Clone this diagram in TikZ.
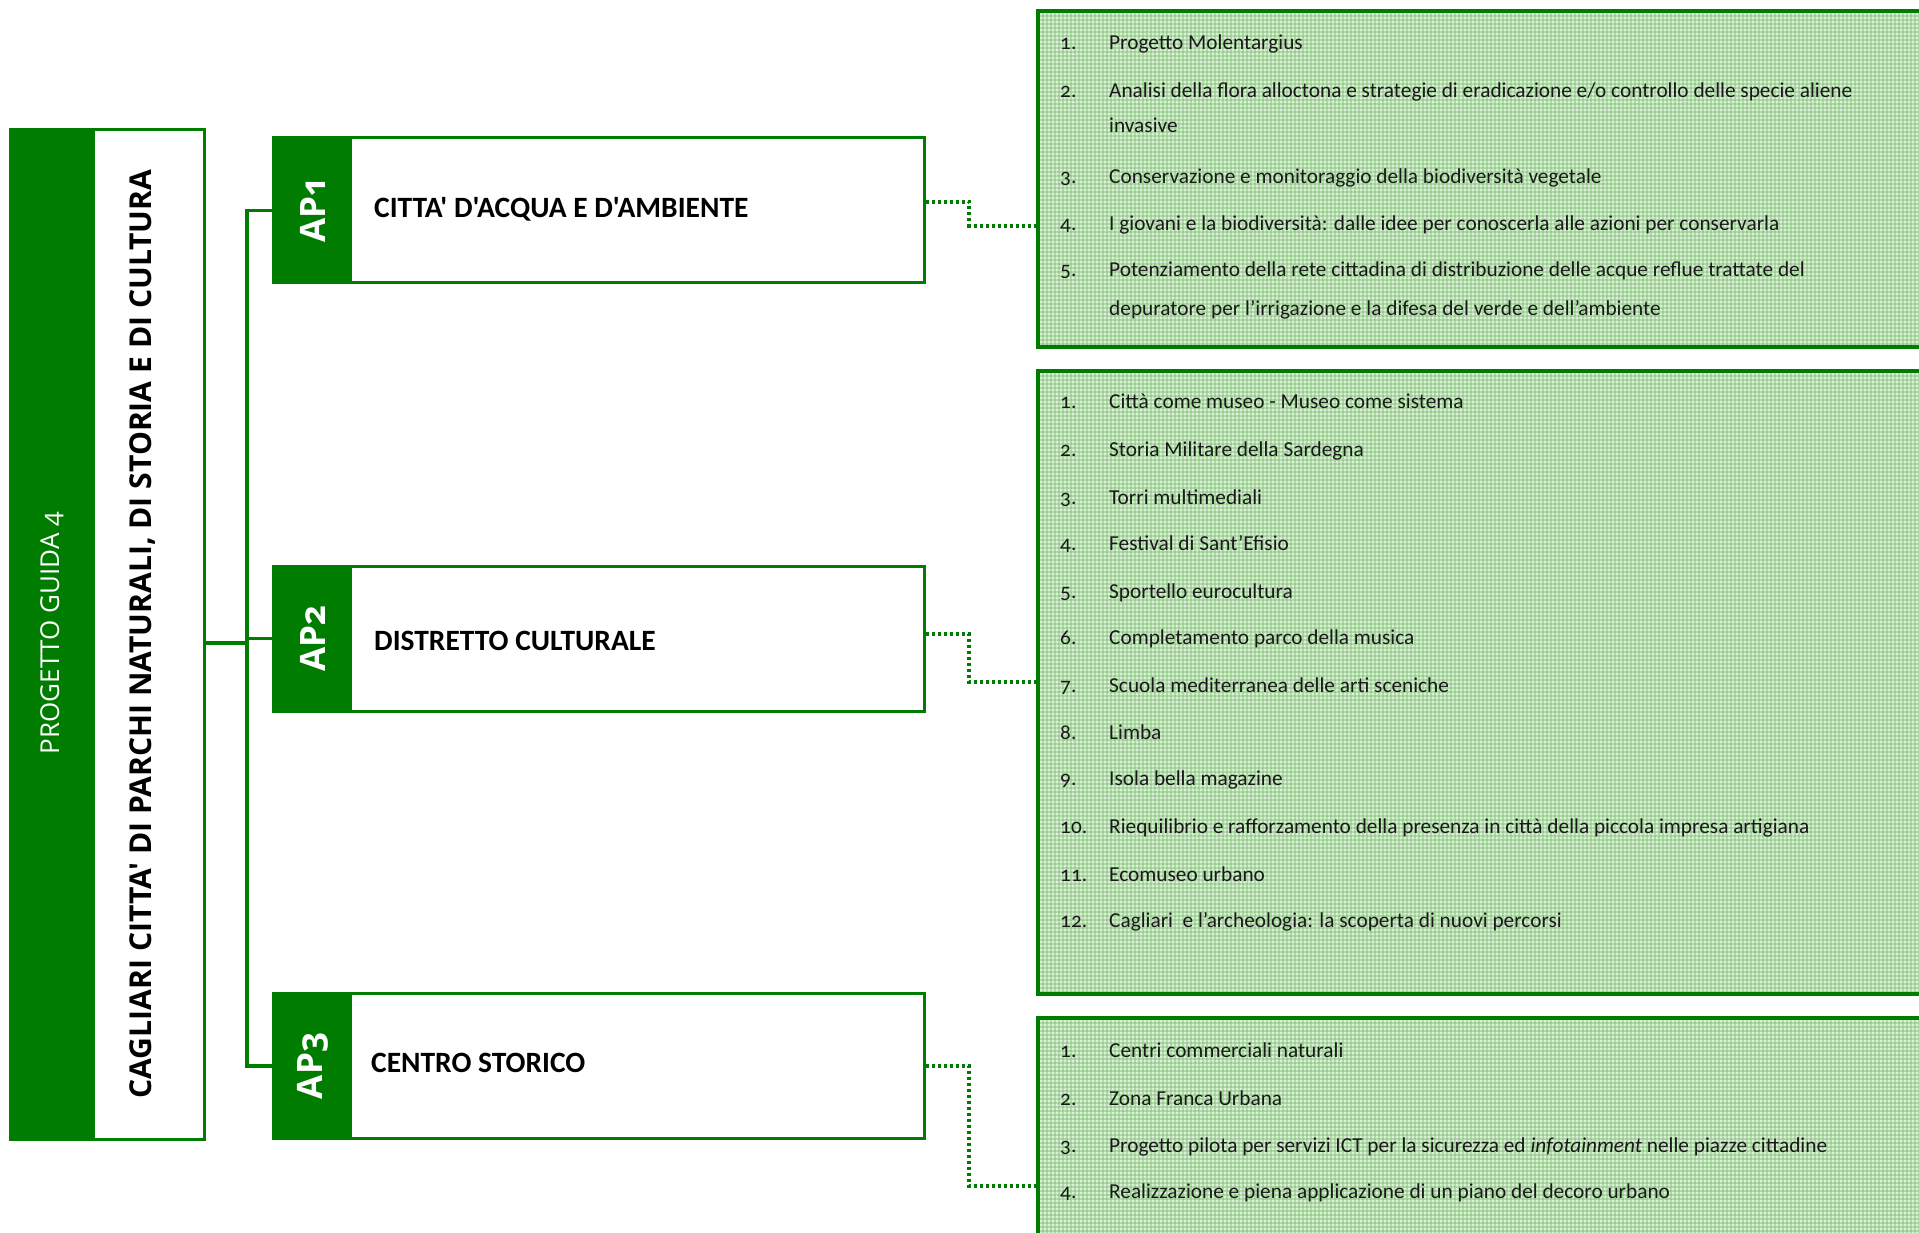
\documentclass[tikz,border=0pt]{standalone}
\usepackage{fontspec}
\setmainfont{Carlito}[Numbers=OldStyle]
\newfontfamily\headfont{Carlito}[Ligatures=TeXOff,Numbers=OldStyle]
\newfontfamily\widefont{Open Sans}[Ligatures=TeXOff,Numbers=OldStyle]
\usetikzlibrary{calc}

\definecolor{pgreen}{RGB}{0,125,0}
\definecolor{ginbase}{RGB}{220,239,216}
\definecolor{ginline}{RGB}{110,186,100}
\definecolor{itemtext}{RGB}{25,25,25}

% checked green fill: #1,#2 top-left, #3,#4 bottom-right, #5/#6 stripe counts
\newcommand\ginghamfill[6]{%
  \begin{scope}
    \clip (#1,#2) rectangle (#3,#4);
    \fill[ginbase] (#1,#2) rectangle (#3,#4);
    \foreach \k in {0,...,#5}
      \draw[ginstripe] (#1+1+4*\k,#2) -- (#1+1+4*\k,#4);
    \foreach \k in {0,...,#6}
      \draw[ginstripe] (#1,#2+1+4*\k) -- (#3,#2+1+4*\k);
  \end{scope}}

% one numbered row of a list box
\newcommand\listrow[4]{%
  \node[itemnum] (#1n) at (1060,#2+6) {#3};
  \node[itemtxt] (#1t) at (1109,#2+6) {#4};}

\tikzset{
  ginstripe/.style={draw=ginline, line width=2pt, opacity=0.38},
  frame/.style={rectangle, draw=pgreen, line width=3pt, fill=white, inner sep=0pt},
  tagstrip/.style={rectangle, fill=pgreen, inner sep=0pt, text=white},
  listframe/.style={rectangle, draw=pgreen, line width=4pt, inner sep=0pt},
  trunk/.style={draw=pgreen, line width=3.5pt},
  dotlink/.style={draw=pgreen, line width=4pt, dash pattern=on 3pt off 3pt},
  itemnum/.style={anchor=base west, inner sep=0pt, text=itemtext, font=\fontsize{21.3}{24}\selectfont},
  itemtxt/.style={itemnum},
  aptitle/.style={anchor=west, inner sep=0pt, text=black, font=\headfont\bfseries\fontsize{29.5}{32}\selectfont},
}
\newcommand\tagfont{\widefont\bfseries\fontsize{35}{38}\selectfont}

\begin{document}
\begin{tikzpicture}[x=1pt,y=-1pt]
\clip (0,0) rectangle (1919,1233);
\fill[white] (0,0) rectangle (1919,1233);

% main guide project box
\node[frame, minimum width=194pt, minimum height=1009pt] (main) at (107,634.5) {};
\node[tagstrip, minimum width=85pt, minimum height=1009pt] (mainstrip) at (52.5,634.5) {};
\node[rotate=90, inner sep=0pt, text=white, font=\widefont\fontsize{26}{28}\selectfont] (guide) at (52,633) {PROGETTO GUIDA 4};
\node[rotate=90, inner sep=0pt, text=black, font=\widefont\bfseries\fontsize{30.1}{34}\selectfont] (maintitle) at (143,634) {CAGLIARI CITTA' DI PARCHI NATURALI, DI STORIA E DI CULTURA};

% action plan boxes
\node[frame, minimum width=651pt, minimum height=145pt] (ap1) at (598.5,210.5) {};
\node[frame, minimum width=651pt, minimum height=145pt] (ap2) at (598.5,638.5) {};
\node[frame, minimum width=651pt, minimum height=145pt] (ap3) at (598.5,1066) {};
\node[tagstrip, minimum width=79pt, minimum height=145pt] (ap1tag) at (312.5,210.5) {\rotatebox{90}{\tagfont AP1}};
\node[tagstrip, minimum width=79pt, minimum height=145pt] (ap2tag) at (312.5,638.5) {\rotatebox{90}{\tagfont AP2}};
\node[tagstrip, minimum width=79pt, minimum height=145pt] (ap3tag) at (312.5,1066) {\rotatebox{90}{\tagfont AP3}};
\node[aptitle] (ap1title) at (374,209) {CITTA' D'ACQUA E D'AMBIENTE};
\node[aptitle] (ap2title) at (374,641) {DISTRETTO CULTURALE};
\node[aptitle] (ap3title) at (371,1063) {CENTRO STORICO};

% tree connectors
\coordinate (fork) at (247,643);
\draw[trunk] (main.east |- fork) -- (fork);
\draw[trunk] (ap1.west) -- (ap1.west -| fork) -- (ap3.west -| fork) -- (ap3.west);
\draw[trunk] (ap2.west -| fork) -- (ap2.west);

% project list boxes
\ginghamfill{1038}{11}{1919}{347}{221}{85}
\ginghamfill{1038}{371}{1919}{994}{221}{156}
\ginghamfill{1038}{1018}{1919}{1233}{221}{54}
\node[listframe, minimum width=907pt, minimum height=336pt] (list1) at (1491.5,179) {};
\node[listframe, minimum width=907pt, minimum height=623pt] (list2) at (1491.5,682.5) {};
\node[listframe, minimum width=907pt, minimum height=242pt] (list3) at (1491.5,1139) {};

% dotted links from plans to their lists
\coordinate (d1a) at (969,202);
\coordinate (d1b) at (969,226);
\coordinate (d2a) at (969,634);
\coordinate (d2b) at (969,682);
\coordinate (d3a) at (969,1066);
\coordinate (d3b) at (969,1186);
\draw[dotlink] (ap1.east |- d1a) -- (d1a) -- (d1b) -- (d1b -| list1.west);
\draw[dotlink] (ap2.east |- d2a) -- (d2a) -- (d2b) -- (d2b -| list2.west);
\draw[dotlink] (ap3.east |- d3a) -- (d3a) -- (d3b) -- (d3b -| list3.west);

% list of AP1
\listrow{a1}{44}{1.}{Progetto Molentargius}
\listrow{a2}{92}{2.}{Analisi della flora alloctona e strategie di eradicazione e/o controllo delle specie aliene}
\node[itemtxt] (a2c) at (1109,127+6) {invasive};
\listrow{a3}{177.5}{3.}{Conservazione e monitoraggio della biodiversità vegetale}
\listrow{a4}{225}{4.}{I giovani e la biodiversità: dalle idee per conoscerla alle azioni per conservarla}
\listrow{a5}{270.5}{5.}{Potenziamento della rete cittadina di distribuzione delle acque reflue trattate del}
\node[itemtxt] (a5c) at (1109,310+6) {depuratore per l’irrigazione e la difesa del verde e dell’ambiente};

% list of AP2
\listrow{b1}{402.7}{1.}{Città come museo - Museo come sistema}
\listrow{b2}{450.4}{2.}{Storia Militare della Sardegna}
\listrow{b3}{498.1}{3.}{Torri multimediali}
\listrow{b4}{544.6}{4.}{Festival di Sant’Efisio}
\listrow{b5}{592.4}{5.}{Sportello eurocultura}
\listrow{b6}{638.9}{6.}{Completamento parco della musica}
\listrow{b7}{686.6}{7.}{Scuola mediterranea delle arti sceniche}
\listrow{b8}{733.1}{8.}{Limba}
\listrow{b9}{779.6}{9.}{Isola bella magazine}
\listrow{b10}{827.4}{10.}{Riequilibrio e rafforzamento della presenza in città della piccola impresa artigiana}
\listrow{b11}{875.1}{11.}{Ecomuseo urbano}
\listrow{b12}{921.6}{12.}{Cagliari\ \ e l’archeologia: la scoperta di nuovi percorsi}

% list of AP3
\listrow{c1}{1051.3}{1.}{Centri commerciali naturali}
\listrow{c2}{1099.1}{2.}{Zona Franca Urbana}
\listrow{c3}{1146.8}{3.}{Progetto pilota per servizi ICT per la sicurezza ed \textit{infotainment} nelle piazze cittadine}
\listrow{c4}{1192.1}{4.}{Realizzazione e piena applicazione di un piano del decoro urbano}
\end{tikzpicture}
\end{document}
